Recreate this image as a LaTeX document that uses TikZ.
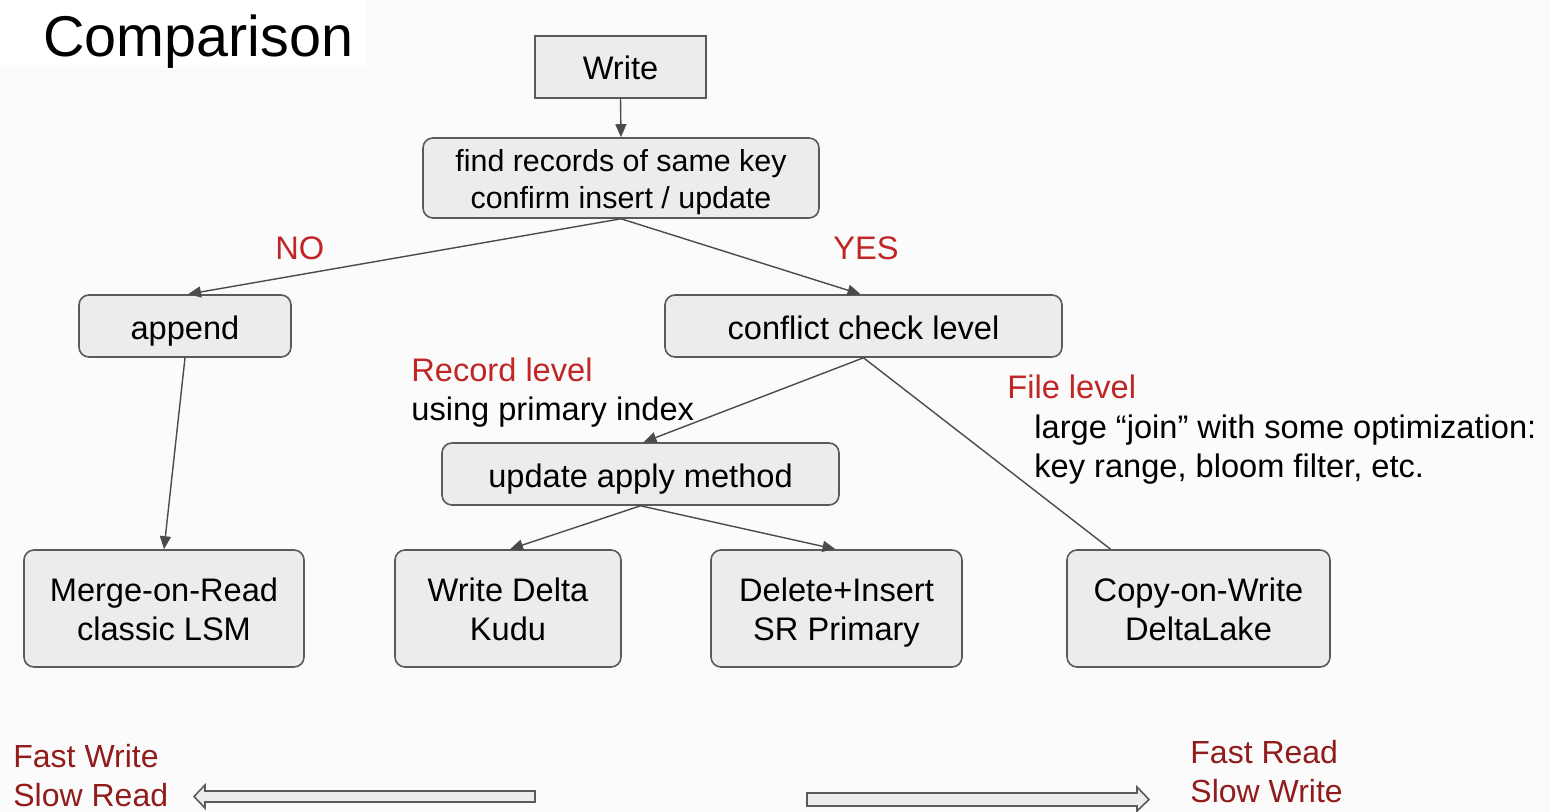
\documentclass[tikz,border=0pt]{standalone}
\usepackage{fontspec}
\setmainfont{Liberation Sans}
\usetikzlibrary{arrows.meta}
\definecolor{boxfill}{RGB}{236,236,236}
\definecolor{boxline}{RGB}{90,90,90}
\definecolor{lnk}{RGB}{75,75,75}
\definecolor{lblred}{RGB}{192,38,38}
\definecolor{darkred}{RGB}{145,28,28}
\definecolor{bg}{RGB}{251,251,251}
\newcommand\onestrut{\rule[-3.7pt]{0pt}{21.2pt}}
\newcommand\writestrut{\rule[-3.7pt]{0pt}{19.7pt}}
\newcommand\topstrut{\rule{0pt}{15.7pt}}
\newcommand\botstrut{\rule[-3.7pt]{0pt}{3.7pt}}
\tikzset{
  box/.style={draw=boxline, fill=boxfill, line width=0.8pt, rounded corners=5pt,
    align=center, inner sep=0pt, font=\fontsize{16.3}{19.5}\selectfont},
  sqbox/.style={box, rounded corners=0pt},
  link/.style={draw=lnk, line width=0.7pt, -{Triangle[length=6.5pt,width=5.5pt]}},
  plain/.style={draw=lnk, line width=0.7pt},
  lbl/.style={anchor=base west, inner sep=0pt, font=\fontsize{16.3}{19.5}\selectfont},
  redlbl/.style={lbl, text=lblred},
  dredlbl/.style={lbl, text=darkred, font=\fontsize{16}{19.5}\selectfont},
  blockarrow/.style={draw=boxline, fill=boxfill, line width=0.8pt, line join=miter}
}
\begin{document}
\begin{tikzpicture}[x=0.5pt, y=-0.5pt]
\useasboundingbox (0,0) rectangle (1550,812);
\fill[bg] (0,0) rectangle (1550,812);
\fill[white] (0,0) rectangle (365,66);

\node[anchor=base west, inner sep=0pt, font=\fontsize{28.75}{32}\selectfont] (title) at (43,57) {Comparison};

\node[sqbox, minimum width=85.5pt, minimum height=31pt] (write) at (620.5,67) {\writestrut Write};
\node[box, minimum width=198pt, minimum height=40pt, font=\fontsize{15.2}{18.5}\selectfont] (find) at (621,178) {\topstrut find records of same key\\confirm insert / update\botstrut};
\node[box, minimum width=106pt, minimum height=31pt] (append) at (185,326) {\onestrut append};
\node[box, minimum width=198.5pt, minimum height=31pt] (conflict) at (863.5,326) {\onestrut conflict check level};
\node[box, minimum width=198.5pt, minimum height=31pt] (update) at (640.5,474) {\onestrut update apply method};
\node[box, minimum width=140pt, minimum height=58.5pt] (mor) at (164,608.5) {\topstrut Merge-on-Read\\classic LSM\botstrut};
\node[box, minimum width=113pt, minimum height=58.5pt] (kudu) at (508,608.5) {\topstrut Write Delta\\Kudu\botstrut};
\node[box, minimum width=125.5pt, minimum height=58.5pt] (sr) at (836.5,608.5) {\topstrut Delete+Insert\\SR Primary\botstrut};
\node[box, minimum width=131.5pt, minimum height=58.5pt] (cow) at (1198.5,608.5) {\topstrut Copy-on-Write\\DeltaLake\botstrut};

\draw[link] (write.south) -- (find.north);
\draw[link] (find.south) -- ([xshift=1.5pt]append.north);
\draw[link] (find.south) -- ([xshift=-1.5pt]conflict.north);
\draw[link] (append.south) -- (mor.north);
\draw[link] (conflict.south) -- ([xshift=1.5pt]update.north);
\draw[plain] (conflict.south) -- ([xshift=-44pt]cow.north);
\draw[link] (update.south) -- ([xshift=1pt]kudu.north);
\draw[link] (update.south) -- ([xshift=-0.5pt]sr.north);

\node[redlbl] (no) at (275,260) {NO};
\node[redlbl] (yes) at (833,260) {YES};
\node[redlbl] (reclvl) at (411,381) {Record level};
\node[lbl] (recnote) at (411,420) {using primary index};
\node[redlbl] (filelvl) at (1007,398) {File level};
\node[lbl] (filenote1) at (1034,438) {large “join” with some optimization:};
\node[lbl] (filenote2) at (1034,477) {key range, bloom filter, etc.};

\node[dredlbl] (fw) at (13,767) {Fast Write};
\node[dredlbl] (sread) at (13,806) {Slow Read};
\node[dredlbl] (fr) at (1190,763) {Fast Read};
\node[dredlbl] (swrite) at (1190,802) {Slow Write};

\draw[blockarrow] (535,791) -- (205,791) -- (205,785) -- (194,796.5) -- (205,808) -- (205,802) -- (535,802) -- cycle;
\draw[blockarrow] (807,793) -- (1137,793) -- (1137,787) -- (1149,799.5) -- (1137,811) -- (1137,806) -- (807,806) -- cycle;
\end{tikzpicture}
\end{document}
